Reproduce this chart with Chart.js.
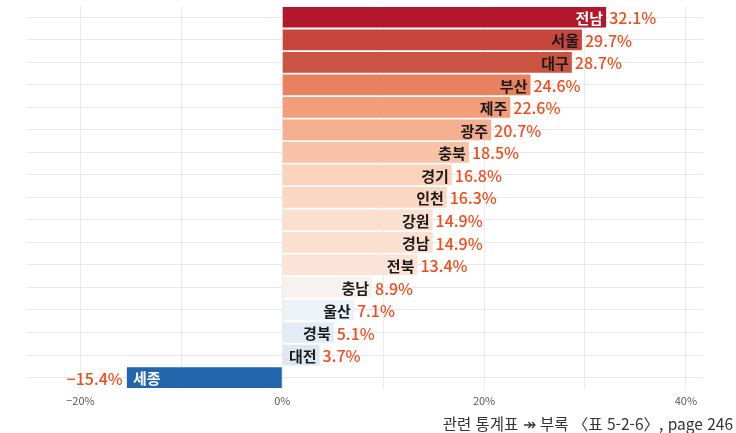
<!DOCTYPE html>
<html lang="ko">
<head>
<meta charset="utf-8">
<script src="https://cdn.jsdelivr.net/npm/chart.js@4"></script>
<style>
    body { margin: 0; background: #fff; }
    #wrap { position: relative; width: 736px; height: 433px; }
    #caption {
        position: absolute; right: 3px; top: 414px;
        font-family: 'Noto Sans CJK KR', sans-serif; font-size: 15.5px;
        color: #333; white-space: nowrap; line-height: 18px;
    }
</style>
</head>
<body>
<div id="wrap">
    <canvas id="chart" width="736" height="433"></canvas>
    <div id="caption">관련 통계표 ↠ 부록 〈표 5-2-6〉, page 246</div>
</div>
<script>
// --- Data ---
const regions = ['전남', '서울', '대구', '부산', '제주', '광주', '충북', '경기', '인천',
                 '강원', '경남', '전북', '충남', '울산', '경북', '대전', '세종'];
const values = [32.1, 29.7, 28.7, 24.6, 22.6, 20.7, 18.5, 16.8, 16.3,
                14.9, 14.9, 13.4, 8.9, 7.1, 5.1, 3.7, -15.4];
const xTicks = [-20, 0, 20, 40];

// bar fills (diverging red-blue)
const barColors = ['#b2182b', '#c6463e', '#ca5341', '#e8825e', '#f29e7b', '#f5ae8f',
                   '#f9c2a6', '#fbd3bd', '#fbd7c3', '#fbdfcf', '#fbdfcf', '#fbe3d6',
                   '#f8f2ef', '#edf2f7', '#e3ecf4', '#dde8f1', '#2166ac'];
const whiteNames = ['전남', '세종'];
const FONT = "'Noto Sans CJK KR', 'Noto Sans', sans-serif";

// draws region name at the bar end and the value next to it
const barLabels = {
    id: 'barLabels',
    afterDatasetsDraw(chart) {
        const ctx = chart.ctx;
        const meta = chart.getDatasetMeta(0);
        ctx.save();
        ctx.textBaseline = 'middle';
        meta.data.forEach((bar, i) => {
            const v = values[i];
            const name = regions[i];
            const y = bar.y + 1;
            const valText = (v < 0 ? '−' : '') + Math.abs(v).toFixed(1) + '%';
            ctx.font = 'bold 15px ' + FONT;
            ctx.fillStyle = whiteNames.includes(name) ? '#ffffff' : '#1a1a1a';
            if (v >= 0) {
                ctx.textAlign = 'right';
                ctx.fillText(name, bar.x - 3, y);
                ctx.font = '500 16px ' + FONT;
                ctx.fillStyle = '#ef4d1d';
                ctx.textAlign = 'left';
                ctx.fillText(valText, bar.x + 3, y);
            } else {
                ctx.textAlign = 'left';
                ctx.fillText(name, bar.x + 6, y);
                ctx.font = '500 16px ' + FONT;
                ctx.fillStyle = '#ef4d1d';
                ctx.textAlign = 'right';
                ctx.fillText(valText, bar.x - 4, y);
            }
        });
        ctx.restore();
    }
};

new Chart(document.getElementById('chart').getContext('2d'), {
    type: 'bar',
    data: {
        labels: regions,
        datasets: [{
            data: values,
            backgroundColor: barColors,
            borderWidth: 0,
            barPercentage: 0.92,
            categoryPercentage: 1
        }]
    },
    options: {
        indexAxis: 'y',
        responsive: false,
        animation: false,
        layout: { padding: { left: 27, right: 33, top: 6, bottom: 21 } },
        scales: {
            x: {
                min: -25.3,
                max: 41.7,
                border: { display: false },
                grid: { color: '#ebebeb', drawTicks: false },
                ticks: {
                    stepSize: 10,
                    includeBounds: false,
                    padding: 5,
                    color: '#555',
                    font: { family: FONT, size: 11 },
                    callback: v => xTicks.includes(v) ? (v < 0 ? '−' : '') + Math.abs(v) + '%' : ''
                }
            },
            y: {
                offset: true,
                border: { display: false },
                grid: { color: '#e8e8e8', offset: false, drawTicks: false },
                ticks: { display: false }
            }
        },
        plugins: {
            legend: { display: false },
            tooltip: { enabled: false }
        }
    },
    plugins: [barLabels]
});
</script>
</body>
</html>
